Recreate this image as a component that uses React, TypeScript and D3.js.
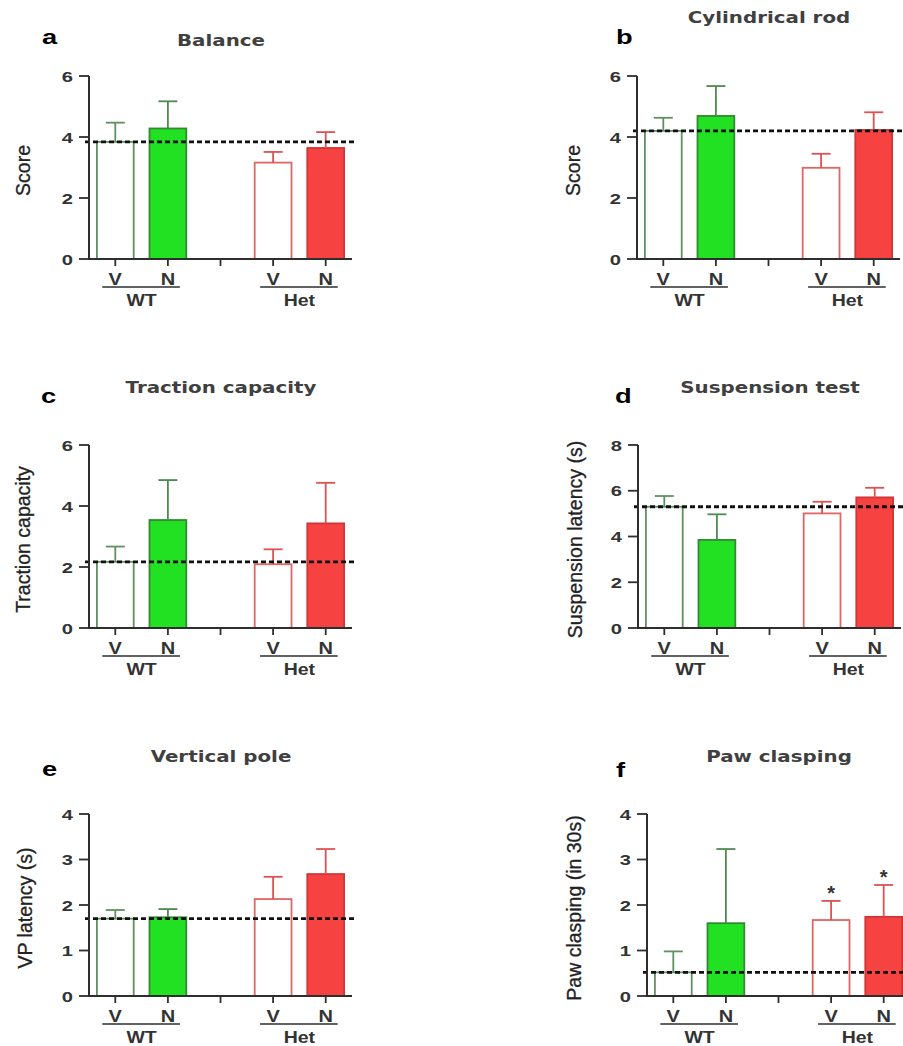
import React from 'react';
import * as d3 from 'd3';

// ---- data ----
const panelLetters = ['a', 'b', 'c', 'd', 'e', 'f'];
const titles = ['Balance', 'Cylindrical rod', 'Traction capacity', 'Suspension test', 'Vertical pole', 'Paw clasping'];
const yLabels = ['Score', 'Score', 'Traction capacity', 'Suspension latency (s)', 'VP latency (s)', 'Paw clasping (in 30s)'];
const yMax = [6, 6, 6, 8, 4, 4];
const yTicks = [
  [0, 2, 4, 6],
  [0, 2, 4, 6],
  [0, 2, 4, 6],
  [0, 2, 4, 6, 8],
  [0, 1, 2, 3, 4],
  [0, 1, 2, 3, 4],
];
const treatments = ['V', 'N', 'V', 'N'];
const genotypes = ['WT', 'Het'];
const slots = ['WT-V', 'WT-N', 'gap', 'Het-V', 'Het-N'];
const means = [
  [3.84, 4.28, 3.16, 3.64],
  [4.2, 4.69, 2.99, 4.23],
  [2.17, 3.54, 2.09, 3.43],
  [5.3, 3.85, 5.01, 5.71],
  [1.7, 1.73, 2.13, 2.68],
  [0.52, 1.6, 1.67, 1.74],
];
const sem = [
  [0.63, 0.89, 0.35, 0.52],
  [0.43, 0.98, 0.46, 0.58],
  [0.5, 1.31, 0.49, 1.33],
  [0.47, 1.12, 0.51, 0.42],
  [0.19, 0.18, 0.49, 0.55],
  [0.46, 1.63, 0.42, 0.7],
];
const significant = [
  [false, false, false, false],
  [false, false, false, false],
  [false, false, false, false],
  [false, false, false, false],
  [false, false, false, false],
  [false, false, true, true],
];

// ---- layout ----
const layout = [
  { ax: 89, base: 259, top: 76, titleY: 46, letterX: 42, letterY: 44, labelDx: -66 },
  { ax: 637, base: 259, top: 76, titleY: 23, letterX: 616, letterY: 44, labelDx: -64 },
  { ax: 89, base: 628, top: 445, titleY: 393, letterX: 41, letterY: 403, labelDx: -66 },
  { ax: 638, base: 628, top: 445, titleY: 393, letterX: 615, letterY: 403, labelDx: -63 },
  { ax: 89, base: 996, top: 814, titleY: 762, letterX: 42, letterY: 776, labelDx: -64 },
  { ax: 647, base: 996, top: 814, titleY: 762, letterX: 616, letterY: 777, labelDx: -73 },
];
const AXIS_LEN = 263;

const barFill = ['#ffffff', '#22e022', '#ffffff', '#f74242'];
const barStroke = ['#5f9160', '#338a33', '#e06666', '#d03636'];
const errStroke = ['#5f9160', '#4e8a4e', '#dd5252', '#dd5252'];
const AXIS = '#2e2e2e';
const SANS = '"Liberation Sans", Arial, sans-serif';
const TITLE_FONT = '"DejaVu Sans", Verdana, sans-serif';

function SText({ x, y, sx = 1.4, anchor = 'middle', children, ...rest }: any) {
  return (
    <text transform={`translate(${x},${y}) scale(${sx},1)`} textAnchor={anchor} {...rest}>
      {children}
    </text>
  );
}

function Panel({ i }: { i: number }) {
  const L = layout[i];
  const x = d3.scaleBand<string>()
    .domain(slots)
    .range([L.ax, L.ax + AXIS_LEN])
    .paddingInner(0.3)
    .paddingOuter(0.15);
  const y = d3.scaleLinear().domain([0, yMax[i]]).range([L.base, L.top]);
  const barSlots = slots.filter((s) => s !== 'gap');
  const bw = x.bandwidth();
  const cx = (s: string) => (x(s) as number) + bw / 2;
  const ref = means[i][0];

  return (
    <g>
      <SText x={L.letterX} y={L.letterY} sx={1.3} anchor="start" fontFamily={SANS}
        fontWeight="bold" fontSize={21} fill="#000">{panelLetters[i]}</SText>
      <SText x={L.ax + 132} y={L.titleY} sx={1.24} fontFamily={TITLE_FONT} fontWeight="bold"
        fontSize={16} fill="#404040">
        {titles[i]}
      </SText>

      {/* y label */}
      <text
        transform={`translate(${L.ax + L.labelDx},${(L.top + L.base) / 2 + 3}) rotate(-90)`}
        textAnchor="middle" dy="0.35em" fontFamily={SANS} fontSize={19.5} fill="#222"
        stroke="#222" strokeWidth={0.3}>
        {yLabels[i]}
      </text>

      {/* bars */}
      {barSlots.map((s, j) => (
        <rect key={s} x={x(s)} y={y(means[i][j])} width={bw} height={L.base - y(means[i][j])}
          fill={barFill[j]} stroke={barStroke[j]} strokeWidth={1.8} />
      ))}

      {/* upper error bars */}
      {barSlots.map((s, j) => {
        const yt = y(means[i][j] + sem[i][j]);
        return (
          <g key={s} stroke={errStroke[j]} strokeWidth={1.8}>
            <line x1={cx(s)} x2={cx(s)} y1={y(means[i][j])} y2={yt} />
            <line x1={cx(s) - 9.5} x2={cx(s) + 9.5} y1={yt} y2={yt} />
          </g>
        );
      })}

      {/* significance stars */}
      {barSlots.map((s, j) => significant[i][j] ? (
        <text key={s} x={cx(s)} y={y(means[i][j] + sem[i][j]) - 1} textAnchor="middle"
          fontFamily={SANS} fontWeight="bold" fontSize={20} fill="#333">*</text>
      ) : null)}

      {/* reference dashed line at WT vehicle mean */}
      <line x1={L.ax - 4} x2={L.ax + AXIS_LEN + 2} y1={y(ref)} y2={y(ref)}
        stroke="#111" strokeWidth={2.8} strokeDasharray="5,3" />

      {/* axes */}
      <line x1={L.ax} x2={L.ax} y1={L.top} y2={L.base} stroke={AXIS} strokeWidth={2} />
      <line x1={L.ax - 1} x2={L.ax + AXIS_LEN} y1={L.base} y2={L.base} stroke={AXIS} strokeWidth={2} />
      {yTicks[i].map((t) => (
        <g key={t}>
          <line x1={L.ax - 10} x2={L.ax} y1={y(t)} y2={y(t)} stroke={AXIS} strokeWidth={1.8} />
          <SText x={L.ax - 16} y={y(t) + 5.5} sx={1.3} anchor="end" fontFamily={SANS}
            fontWeight="bold" fontSize={15.5} fill="#333">{t}</SText>
        </g>
      ))}
      {slots.map((s) => (
        <line key={s} x1={cx(s)} x2={cx(s)} y1={L.base} y2={L.base + 7} stroke={AXIS} strokeWidth={1.8} />
      ))}

      {/* category labels */}
      {barSlots.map((s, j) => (
        <SText key={s} x={cx(s)} y={L.base + 26} sx={1.25} fontFamily={SANS} fontWeight="bold"
          fontSize={16} fill="#333">
          {treatments[j]}
        </SText>
      ))}
      {genotypes.map((g, k) => {
        const a = cx(barSlots[k * 2]);
        const b = cx(barSlots[k * 2 + 1]);
        return (
          <g key={g}>
            <line x1={a - 13} x2={b + 12} y1={L.base + 28} y2={L.base + 28} stroke={AXIS} strokeWidth={1.6} />
            <SText x={(a + b) / 2} y={L.base + 47} sx={1.22} fontFamily={SANS} fontWeight="bold"
              fontSize={16} fill="#333">{g}</SText>
          </g>
        );
      })}
    </g>
  );
}

export default function App() {
  return (
    <svg width={903} height={1046} style={{ position: 'absolute', left: 0, top: 0, background: '#fff' }}>
      <rect width={903} height={1046} fill="#fff" />
      {panelLetters.map((_, i) => <Panel key={i} i={i} />)}
    </svg>
  );
}
